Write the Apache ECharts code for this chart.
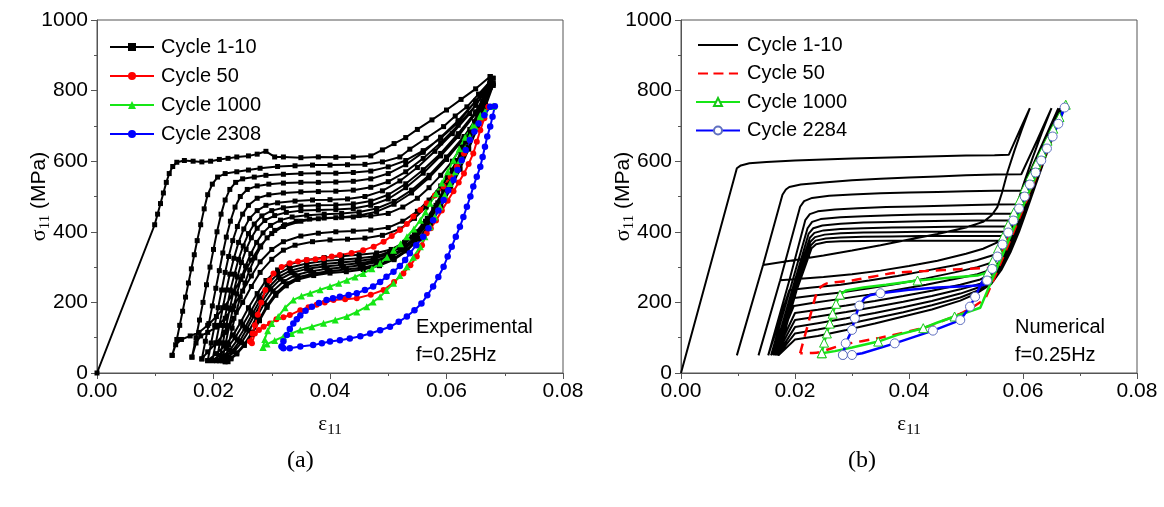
<!DOCTYPE html>
<html>
<head>
<meta charset="utf-8">
<script src="https://cdn.jsdelivr.net/npm/echarts@6/dist/echarts.min.js"></script>
<style>
  html, body { margin: 0; padding: 0; background: #fff; }
  #chart { width: 1164px; height: 507px; }
</style>
</head>
<body>
<div id="chart"></div>
<script>
// ---- (a) Experimental: cycles 1-10, [strain, stress MPa] ----
var expC1Load = [[0,0],[0.0099,420],[0.0104,450],[0.0109,480],[0.0114,510],[0.0119,540],[0.0124,565],[0.013,585],[0.0137,597],[0.015,602],[0.0165,600],[0.018,598],[0.0195,600],[0.021,605],[0.0225,608],[0.024,612],[0.026,615],[0.0275,620],[0.029,628],[0.0305,612],[0.032,612],[0.035,610],[0.038,612],[0.041,611],[0.044,612],[0.047,615],[0.049,632],[0.051,650],[0.053,667],[0.055,690],[0.0575,717],[0.06,745],[0.0625,775],[0.065,805],[0.0675,840]];
var expC1Unload = [[0.0675,840],[0.0665,790],[0.0655,740],[0.064,690],[0.0625,640],[0.061,600],[0.059,560],[0.057,525],[0.055,495],[0.0525,470],[0.050,452],[0.047,445],[0.044,442],[0.041,440],[0.038,437],[0.035,430],[0.032,415],[0.030,395],[0.028,360],[0.0265,320],[0.025,275],[0.0235,230],[0.022,190],[0.0205,160],[0.019,135],[0.0175,115],[0.016,105],[0.0145,95],[0.0135,80],[0.0129,50]];
var expC2Load = [[0.0129,50],[0.0137,95],[0.0142,135],[0.0147,175],[0.0152,215],[0.0157,255],[0.0162,295],[0.0167,335],[0.0172,375],[0.0178,420],[0.0184,465],[0.019,505],[0.0198,535],[0.0207,555],[0.022,565],[0.024,570],[0.026,575],[0.028,580],[0.031,585],[0.034,587],[0.037,589],[0.040,589],[0.043,590],[0.046,591],[0.049,598],[0.052,612],[0.0537,634],[0.0565,665],[0.0595,698],[0.0615,728],[0.0635,754],[0.0655,790],[0.068,835]];
var expC2Unload = [[0.068,835],[0.0668,780],[0.0655,725],[0.064,670],[0.0625,620],[0.061,575],[0.059,530],[0.057,490],[0.055,458],[0.0525,430],[0.050,412],[0.047,405],[0.044,402],[0.041,400],[0.038,396],[0.035,388],[0.032,372],[0.030,350],[0.028,315],[0.0265,275],[0.025,232],[0.0235,190],[0.022,155],[0.0205,130],[0.019,115],[0.0178,105],[0.017,85],[0.0163,45]];
var expC3Load = [[0.0163,45],[0.017,100],[0.0176,150],[0.0182,200],[0.0188,250],[0.0194,300],[0.02,350],[0.0206,400],[0.0213,450],[0.022,490],[0.0228,520],[0.0238,540],[0.025,550],[0.027,555],[0.029,560],[0.032,563],[0.035,565],[0.038,566],[0.041,566],[0.044,568],[0.047,572],[0.05,584],[0.053,602],[0.056,630],[0.059,665],[0.062,710],[0.065,770],[0.0675,825]];
var expC3Unload = [[0.0675,825],[0.0662,770],[0.0648,712],[0.0633,655],[0.0618,602],[0.0602,555],[0.0585,510],[0.0565,470],[0.0545,438],[0.052,408],[0.049,390],[0.046,382],[0.043,379],[0.040,377],[0.037,372],[0.034,362],[0.032,348],[0.030,322],[0.028,285],[0.0265,245],[0.025,200],[0.0235,155],[0.022,115],[0.0205,85],[0.019,60],[0.018,40]];
var expC4Load = [[0.018,40],[0.0186,90],[0.0192,140],[0.0198,190],[0.0204,240],[0.021,290],[0.0216,340],[0.0222,385],[0.0229,430],[0.0237,470],[0.0246,500],[0.0258,520],[0.0275,530],[0.0295,535],[0.032,538],[0.035,540],[0.038,540],[0.041,541],[0.044,543],[0.047,550],[0.05,565],[0.053,590],[0.056,625],[0.059,668],[0.062,715],[0.065,770],[0.0675,820]];
var expC4Unload = [[0.0675,820],[0.0662,762],[0.0648,700],[0.0633,640],[0.0618,585],[0.0602,532],[0.0585,482],[0.0567,438],[0.0548,400],[0.0528,370],[0.0505,350],[0.048,340],[0.045,335],[0.042,331],[0.039,327],[0.036,320],[0.033,308],[0.031,292],[0.029,262],[0.0275,225],[0.026,185],[0.0247,145],[0.0234,108],[0.022,78],[0.0205,55],[0.019,35]];
var expC5Load = [[0.019,35],[0.0196,85],[0.0202,135],[0.0208,185],[0.0214,235],[0.022,285],[0.0226,330],[0.0233,375],[0.0241,415],[0.025,450],[0.026,475],[0.0275,495],[0.0295,505],[0.032,510],[0.035,513],[0.038,514],[0.041,515],[0.044,518],[0.047,526],[0.05,542],[0.053,570],[0.056,608],[0.059,652],[0.062,702],[0.065,758],[0.0672,810]];
var expC5Unload = [[0.0672,810],[0.0659,752],[0.0645,692],[0.063,632],[0.0615,577],[0.0599,525],[0.0582,475],[0.0564,430],[0.0545,392],[0.0525,362],[0.0502,342],[0.0478,331],[0.045,325],[0.042,321],[0.039,317],[0.036,310],[0.033,298],[0.031,280],[0.0292,250],[0.0278,215],[0.0264,175],[0.025,135],[0.0237,100],[0.0223,70],[0.021,50],[0.0198,35]];
var expC6Load = [[0.0198,35],[0.0204,85],[0.021,135],[0.0216,185],[0.0222,235],[0.0228,280],[0.0235,325],[0.0243,370],[0.0252,408],[0.0262,438],[0.0275,460],[0.029,475],[0.031,482],[0.034,487],[0.037,490],[0.040,491],[0.043,493],[0.046,500],[0.049,516],[0.052,544],[0.055,582],[0.058,628],[0.061,678],[0.064,735],[0.0668,800]];
var expC6Unload = [[0.0668,800],[0.0655,742],[0.0641,683],[0.0626,625],[0.0611,570],[0.0595,518],[0.0578,468],[0.056,423],[0.0541,385],[0.052,355],[0.0498,335],[0.0474,323],[0.0447,317],[0.0418,313],[0.039,309],[0.036,302],[0.0332,290],[0.0312,272],[0.0295,243],[0.028,207],[0.0267,168],[0.0254,128],[0.0241,94],[0.0228,65],[0.0216,47],[0.0205,35]];
var expC7Load = [[0.0205,35],[0.0211,85],[0.0217,135],[0.0223,185],[0.0229,235],[0.0236,280],[0.0243,322],[0.0251,360],[0.026,395],[0.027,422],[0.0283,445],[0.03,460],[0.032,468],[0.035,473],[0.038,475],[0.041,476],[0.044,479],[0.047,487],[0.05,505],[0.053,536],[0.056,576],[0.059,622],[0.062,678],[0.065,740],[0.0672,805]];
var expC7Unload = [[0.0672,805],[0.0659,746],[0.0645,686],[0.063,627],[0.0615,571],[0.0599,518],[0.0582,468],[0.0564,422],[0.0545,383],[0.0524,352],[0.0502,331],[0.0478,318],[0.045,311],[0.042,306],[0.039,302],[0.036,295],[0.0335,284],[0.0315,266],[0.0298,238],[0.0283,202],[0.027,163],[0.0257,124],[0.0245,90],[0.0232,62],[0.022,45],[0.021,35]];
var expC8Load = [[0.021,35],[0.0216,85],[0.0222,135],[0.0228,183],[0.0234,228],[0.0241,272],[0.0248,313],[0.0256,350],[0.0265,383],[0.0275,410],[0.0288,432],[0.0305,446],[0.0325,455],[0.035,460],[0.038,462],[0.041,463],[0.044,466],[0.047,475],[0.05,493],[0.053,525],[0.056,566],[0.059,615],[0.062,670],[0.065,735],[0.0675,810]];
var expC8Unload = [[0.0675,810],[0.0662,750],[0.0648,690],[0.0633,630],[0.0618,573],[0.0602,520],[0.0585,469],[0.0567,422],[0.0548,382],[0.0527,350],[0.0505,328],[0.048,314],[0.0452,305],[0.0423,299],[0.0395,295],[0.0367,288],[0.034,277],[0.032,259],[0.0302,232],[0.0287,197],[0.0274,158],[0.0261,120],[0.0248,86],[0.0235,60],[0.0225,44],[0.0215,35]];
var expC9Load = [[0.0215,35],[0.0221,85],[0.0227,133],[0.0233,180],[0.024,224],[0.0247,265],[0.0255,303],[0.0264,338],[0.0274,370],[0.0285,397],[0.0298,418],[0.0315,433],[0.0335,442],[0.036,447],[0.039,450],[0.042,452],[0.045,456],[0.048,466],[0.051,486],[0.054,518],[0.057,560],[0.06,612],[0.063,670],[0.066,742],[0.068,815]];
var expC9Unload = [[0.068,815],[0.0667,755],[0.0653,694],[0.0638,634],[0.0623,577],[0.0607,522],[0.059,470],[0.0572,423],[0.0553,382],[0.0532,349],[0.051,325],[0.0485,309],[0.0457,299],[0.0428,293],[0.04,289],[0.0372,282],[0.0345,271],[0.0325,253],[0.0307,226],[0.0292,192],[0.0279,153],[0.0266,115],[0.0253,82],[0.024,57],[0.023,42],[0.022,32]];
var expC10Load = [[0.022,32],[0.0226,80],[0.0232,127],[0.0239,172],[0.0246,215],[0.0254,255],[0.0262,292],[0.0271,326],[0.0281,357],[0.0292,383],[0.0305,404],[0.0322,420],[0.0342,430],[0.0365,436],[0.039,439],[0.042,441],[0.045,446],[0.048,457],[0.051,478],[0.054,510],[0.057,553],[0.06,605],[0.063,665],[0.066,738],[0.068,820]];
var expC10Unload = [[0.068,820],[0.0667,760],[0.0653,698],[0.0638,637],[0.0623,579],[0.0607,523],[0.059,470],[0.0572,422],[0.0553,380],[0.0532,346],[0.051,321],[0.0485,304],[0.0457,293],[0.0428,287],[0.04,283],[0.0372,276],[0.0345,265],[0.0325,247],[0.0307,220],[0.0292,186],[0.0279,148],[0.0266,110],[0.0253,78],[0.024,54],[0.023,40],[0.0225,32]];

var expC50Load = [[0.0263,89],[0.0267,112],[0.0271,135],[0.0276,165],[0.0282,200],[0.0289,235],[0.0296,262],[0.0303,282],[0.0317,300],[0.0331,311],[0.0345,316],[0.036,320],[0.0375,322],[0.0389,325],[0.0403,330],[0.0417,334],[0.0437,340],[0.0457,348],[0.0475,358],[0.0492,372],[0.0506,388],[0.052,405],[0.0532,422],[0.0543,443],[0.0555,462],[0.0566,481],[0.058,503],[0.0595,528],[0.0607,556],[0.0618,584],[0.063,622],[0.064,660],[0.0649,690],[0.0658,717],[0.0672,754]];
var expC50Unload = [[0.0672,754],[0.0665,722],[0.0658,688],[0.0652,655],[0.0646,622],[0.0638,592],[0.063,565],[0.0621,540],[0.0612,515],[0.0602,488],[0.0592,460],[0.0582,432],[0.0573,410],[0.0566,396],[0.0558,362],[0.0549,330],[0.0538,305],[0.0526,282],[0.051,258],[0.0492,235],[0.047,222],[0.0446,212],[0.0426,209],[0.0406,207],[0.0391,200],[0.0377,193],[0.0363,186],[0.0349,178],[0.0331,164],[0.032,158],[0.0308,152],[0.0297,140],[0.0286,131],[0.0278,122],[0.0271,112],[0.0266,84],[0.0263,89]];
var expC1000Load = [[0.0285,72],[0.0288,95],[0.0293,120],[0.03,140],[0.0311,160],[0.0323,185],[0.0337,207],[0.0351,218],[0.0366,226],[0.0383,236],[0.04,245],[0.0415,254],[0.0429,263],[0.0443,272],[0.0457,282],[0.0472,295],[0.0486,311],[0.0498,328],[0.0509,348],[0.0521,366],[0.0532,386],[0.0544,408],[0.0555,433],[0.0564,456],[0.0572,481],[0.0582,508],[0.0592,538],[0.0602,570],[0.0612,603],[0.0622,635],[0.0632,668],[0.0645,700],[0.0658,730],[0.068,756]];
var expC1000Unload = [[0.068,756],[0.0666,740],[0.0658,726],[0.0649,698],[0.064,669],[0.0632,636],[0.0623,603],[0.0615,570],[0.0606,537],[0.0597,504],[0.0589,471],[0.058,442],[0.0572,414],[0.0563,386],[0.0555,358],[0.0543,328],[0.0532,301],[0.052,276],[0.0509,254],[0.0497,234],[0.0486,216],[0.0474,201],[0.0463,188],[0.0446,173],[0.0429,160],[0.0409,150],[0.0389,141],[0.0369,131],[0.0349,122],[0.0334,112],[0.032,103],[0.0305,92],[0.0292,82],[0.0285,72]];
var expC2308Load = [[0.0317,75],[0.032,90],[0.0326,108],[0.0331,125],[0.0337,140],[0.0343,152],[0.0349,163],[0.0358,176],[0.0369,188],[0.0381,198],[0.0394,207],[0.0405,212],[0.0417,216],[0.0432,221],[0.0446,226],[0.046,235],[0.0474,245],[0.0486,258],[0.0497,273],[0.0509,287],[0.052,303],[0.0529,320],[0.0537,339],[0.0548,362],[0.056,386],[0.0569,410],[0.0577,433],[0.0586,460],[0.0595,490],[0.0603,518],[0.0612,547],[0.0619,575],[0.0626,603],[0.0633,632],[0.064,660],[0.0648,684],[0.0655,707],[0.0665,730],[0.0675,754]];
var expC2308Unload = [[0.0683,756],[0.0679,726],[0.0675,698],[0.067,670],[0.0666,641],[0.0662,612],[0.0658,584],[0.0652,556],[0.0646,528],[0.0641,500],[0.0635,471],[0.0629,442],[0.0623,414],[0.0616,386],[0.0609,358],[0.0602,330],[0.0595,301],[0.0586,272],[0.0577,245],[0.0567,220],[0.0557,197],[0.0545,178],[0.0532,160],[0.0518,145],[0.0503,131],[0.0486,121],[0.0469,112],[0.0452,104],[0.0434,98],[0.0417,93],[0.04,89],[0.0386,84],[0.0371,79],[0.0349,75],[0.0331,70],[0.032,70],[0.0317,75]];

// ---- (b) Numerical: cycles 1-10 ----
var numC1Load = [[0,0],[0.0098,580],[0.0105,588],[0.012,594],[0.015,598],[0.02,602],[0.025,605],[0.03,608],[0.035,610],[0.04,612],[0.045,614],[0.05,616],[0.055,617],[0.0575,618],[0.0595,690],[0.0612,750]];
var numC1Unload = [[0.0612,750],[0.0598,690],[0.0585,630],[0.0573,570],[0.0563,510],[0.0555,470],[0.0545,447],[0.053,428],[0.05,412],[0.045,394],[0.04,378],[0.035,362],[0.03,347],[0.025,333],[0.02,320],[0.0144,306],[0.0098,50]];
var numC2Load = [[0.0098,50],[0.0144,306],[0.0178,505],[0.0184,520],[0.019,527],[0.021,534],[0.025,540],[0.03,546],[0.035,550],[0.04,554],[0.045,557],[0.05,560],[0.055,562],[0.0597,563],[0.0625,660],[0.065,750]];
var numC2Unload = [[0.065,750],[0.0633,680],[0.0617,610],[0.0602,540],[0.059,480],[0.058,430],[0.057,395],[0.0555,370],[0.053,352],[0.05,338],[0.045,318],[0.04,303],[0.035,290],[0.03,280],[0.025,272],[0.0174,263],[0.0136,50]];
var numC3Load = [[0.0136,50],[0.0174,263],[0.0209,471],[0.0216,487],[0.023,496],[0.026,502],[0.03,506],[0.035,509],[0.04,511],[0.045,513],[0.05,515],[0.055,516],[0.0598,517],[0.063,635],[0.0662,750]];
var numC3Unload = [[0.0662,750],[0.0645,680],[0.0628,610],[0.0612,540],[0.0598,475],[0.0585,420],[0.0573,380],[0.0562,352],[0.055,335],[0.052,320],[0.048,305],[0.043,290],[0.038,275],[0.033,262],[0.028,250],[0.023,242],[0.019,235],[0.0153,50]];
var numC4Load = [[0.0153,50],[0.019,262],[0.0218,433],[0.0226,450],[0.024,458],[0.027,463],[0.031,467],[0.036,470],[0.041,472],[0.046,474],[0.051,476],[0.055,477],[0.0595,478],[0.0625,580],[0.0665,750]];
var numC4Unload = [[0.0665,750],[0.0648,680],[0.0632,610],[0.0616,540],[0.0601,475],[0.0587,415],[0.0575,370],[0.0563,335],[0.055,315],[0.052,300],[0.048,285],[0.043,268],[0.038,253],[0.033,240],[0.028,228],[0.023,219],[0.0195,212],[0.0158,50]];
var numC5Load = [[0.0158,50],[0.0195,258],[0.0222,410],[0.023,428],[0.0245,436],[0.028,441],[0.032,444],[0.037,447],[0.042,449],[0.047,450],[0.052,451],[0.059,452],[0.0625,560],[0.0667,750]];
var numC5Unload = [[0.0667,750],[0.065,680],[0.0633,605],[0.0617,535],[0.0602,470],[0.0588,410],[0.0575,360],[0.0562,322],[0.0548,295],[0.052,280],[0.048,266],[0.043,250],[0.038,236],[0.033,222],[0.028,210],[0.023,198],[0.0198,190],[0.0162,50]];
var numC6Load = [[0.0162,50],[0.0198,252],[0.0224,395],[0.0232,410],[0.0248,418],[0.028,423],[0.032,426],[0.037,428],[0.042,430],[0.047,431],[0.052,432],[0.0585,432],[0.0622,545],[0.0668,750]];
var numC6Unload = [[0.0668,750],[0.0651,680],[0.0634,605],[0.0618,535],[0.0603,468],[0.0589,408],[0.0576,355],[0.0562,312],[0.0548,283],[0.0525,265],[0.049,250],[0.044,233],[0.039,218],[0.034,204],[0.029,191],[0.024,179],[0.020,170],[0.0165,50]];
var numC7Load = [[0.0165,50],[0.020,250],[0.0226,383],[0.0234,397],[0.025,404],[0.028,408],[0.032,410],[0.037,412],[0.042,413],[0.047,414],[0.052,415],[0.058,415],[0.062,530],[0.0669,750]];
var numC7Unload = [[0.0669,750],[0.0652,680],[0.0635,605],[0.0619,533],[0.0604,466],[0.059,405],[0.0576,350],[0.0562,305],[0.0547,273],[0.0525,253],[0.049,237],[0.044,218],[0.039,202],[0.034,187],[0.029,173],[0.024,160],[0.020,150],[0.0167,50]];
var numC8Load = [[0.0167,50],[0.0201,245],[0.0227,372],[0.0235,385],[0.0252,392],[0.028,396],[0.032,398],[0.037,399],[0.042,400],[0.047,400],[0.052,400],[0.0575,400],[0.0618,520],[0.067,750]];
var numC8Unload = [[0.067,750],[0.0653,680],[0.0636,605],[0.062,532],[0.0605,465],[0.0591,403],[0.0577,347],[0.0562,300],[0.0546,265],[0.0523,243],[0.049,225],[0.044,204],[0.039,186],[0.034,170],[0.029,155],[0.024,141],[0.020,130],[0.0169,50]];
var numC9Load = [[0.0169,50],[0.0202,240],[0.0228,362],[0.0236,375],[0.0254,381],[0.028,384],[0.032,386],[0.037,387],[0.042,388],[0.047,388],[0.052,388],[0.057,388],[0.0615,510],[0.0671,750]];
var numC9Unload = [[0.0671,750],[0.0654,680],[0.0637,605],[0.0621,532],[0.0606,464],[0.0592,402],[0.0578,345],[0.0562,296],[0.0545,258],[0.052,233],[0.049,214],[0.044,192],[0.039,172],[0.034,155],[0.029,138],[0.024,123],[0.020,112],[0.017,50]];
var numC10Load = [[0.017,50],[0.0203,235],[0.0229,353],[0.0237,365],[0.0255,371],[0.028,373],[0.032,374],[0.037,375],[0.042,375],[0.047,375],[0.052,375],[0.0565,375],[0.0612,500],[0.0672,750]];
var numC10Unload = [[0.0672,750],[0.0655,680],[0.0638,605],[0.0622,532],[0.0607,463],[0.0593,400],[0.0578,342],[0.0562,292],[0.0544,252],[0.0518,225],[0.049,205],[0.044,180],[0.039,160],[0.034,140],[0.029,122],[0.024,105],[0.020,95],[0.0171,50]];

var numC50 = [[0.0209,56],[0.0224,145],[0.024,235],[0.0256,254],[0.03,262],[0.0372,283],[0.043,289],[0.049,294],[0.0525,297],[0.0545,300],[0.0672,750],[0.0535,215],[0.0515,190],[0.049,168],[0.043,130],[0.035,100],[0.0284,80],[0.024,58],[0.0209,56]];
// third entry of each row: 1 = marker drawn at that point
var numC1000 = [[0.0247,56,1],[0.0251,86,1],[0.0256,112,1],[0.0261,140,1],[0.0266,168,1],[0.0272,196,1],[0.0279,222,1],[0.029,234,0],[0.032,242,0],[0.036,250,0],[0.0415,262,1],[0.047,270,0],[0.052,276,0],[0.0538,285,1],[0.0547,318,1],[0.0556,352,1],[0.0565,386,1],[0.0574,420,1],[0.0584,455,1],[0.0594,490,1],[0.0603,524,1],[0.0613,558,1],[0.0623,592,1],[0.0633,625,1],[0.0643,658,1],[0.0653,692,1],[0.0664,725,1],[0.0675,760,1],[0.0525,185,0],[0.048,160,1],[0.045,143,0],[0.0425,127,1],[0.038,108,0],[0.0346,89,1],[0.030,72,0],[0.027,62,0],[0.0247,56,1]];
var numC2284 = [[0.0284,51,1],[0.0289,84,1],[0.03,122,1],[0.0305,155,1],[0.0313,191,1],[0.0322,212,0],[0.0333,221,0],[0.035,226,1],[0.04,236,0],[0.045,242,0],[0.05,246,0],[0.0532,249,0],[0.0537,262,1],[0.0546,295,1],[0.0555,330,1],[0.0564,364,1],[0.0574,398,1],[0.0583,432,1],[0.0593,466,1],[0.0603,500,1],[0.0612,534,1],[0.0622,568,1],[0.0632,602,1],[0.0642,636,1],[0.0652,670,1],[0.0662,706,1],[0.0673,752,1],[0.0516,216,1],[0.0507,188,1],[0.049,150,1],[0.0442,120,1],[0.0375,84,1],[0.0318,56,0],[0.030,51,1],[0.0284,51,1]];

var legendA = ['Cycle 1-10', 'Cycle 50', 'Cycle 1000', 'Cycle 2308'];
var legendB = ['Cycle 1-10 ', 'Cycle 50 ', 'Cycle 1000 ', 'Cycle 2284 '];

var expBlack = [].concat(expC1Load, expC1Unload, expC2Load, expC2Unload, expC3Load, expC3Unload,
    expC4Load, expC4Unload, expC5Load, expC5Unload, expC6Load, expC6Unload, expC7Load, expC7Unload,
    expC8Load, expC8Unload, expC9Load, expC9Unload, expC10Load, expC10Unload);
var numBlack = [].concat(numC1Load, numC1Unload, numC2Load, numC2Unload, numC3Load, numC3Unload,
    numC4Load, numC4Unload, numC5Load, numC5Unload, numC6Load, numC6Unload, numC7Load, numC7Unload,
    numC8Load, numC8Unload, numC9Load, numC9Unload, numC10Load, numC10Unload);

function marked(rows) {
    return rows.map(function (r) {
        return r[2] ? [r[0], r[1]] : { value: [r[0], r[1]], symbol: 'none' };
    });
}

var sans = 'Liberation Sans, Arial, sans-serif';
var serif = 'Liberation Serif, Times New Roman, serif';

// legend icons for plain lines (tiny corner anchors keep the bar thin)
var anchors = 'M0,0L0.01,0L0,0.01Z M44,11L43.99,11L44,10.99Z ';
var iconSolid = 'path://' + anchors + 'M0,4.5L44,4.5L44,6.5L0,6.5Z';
var iconDash = 'path://' + anchors + 'M0,4.3L11,4.3L11,6.7L0,6.7Z M17,4.3L28,4.3L28,6.7L17,6.7Z M34,4.3L44,4.3L44,6.7L34,6.7Z';

function xAx(idx) {
    return {
        type: 'value', gridIndex: idx, min: 0, max: 0.08, interval: 0.02,
        name: '{e|ε}{s|11}', nameLocation: 'middle', nameGap: 38,
        nameTextStyle: { rich: {
            e: { fontFamily: serif, fontSize: 21, color: '#000' },
            s: { fontFamily: serif, fontSize: 15, color: '#000', padding: [12, 0, 0, 0] }
        } },
        axisLine: { show: true, lineStyle: { color: '#555', width: 1 } },
        axisTick: { show: true, inside: false, length: 6, lineStyle: { color: '#555' } },
        minorTick: { show: true, splitNumber: 2, length: 3, lineStyle: { color: '#555' } },
        splitLine: { show: false },
        axisLabel: { fontFamily: sans, fontSize: 21, color: '#000', margin: 8,
            formatter: function (v) { return v.toFixed(2); } }
    };
}
function yAx(idx) {
    return {
        type: 'value', gridIndex: idx, min: 0, max: 1000, interval: 200,
        name: '{e|σ}{s|11}{t| (MPa)}', nameLocation: 'middle', nameGap: 44, nameRotate: 90,
        nameMoveOverlap: false,
        nameTextStyle: { rich: {
            e: { fontFamily: serif, fontSize: 22, color: '#000' },
            s: { fontFamily: serif, fontSize: 15, color: '#000', padding: [12, 0, 0, 0] },
            t: { fontFamily: sans, fontSize: 21, color: '#000' }
        } },
        axisLine: { show: true, lineStyle: { color: '#555', width: 1 } },
        axisTick: { show: true, inside: false, length: 6, lineStyle: { color: '#555' } },
        minorTick: { show: true, splitNumber: 2, length: 3, lineStyle: { color: '#555' } },
        splitLine: { show: false },
        axisLabel: { fontFamily: sans, fontSize: 21, color: '#000', margin: 9,
            formatter: function (v) { return String(v); } }
    };
}

function legendBox(left, top, gap, names) {
    return {
        orient: 'vertical', left: left, top: top, data: names,
        itemWidth: 44, itemHeight: 10, itemGap: gap, selectedMode: false,
        formatter: function (n) { return n.trim(); },
        textStyle: { fontFamily: sans, fontSize: 20, color: '#000', padding: [0, 0, 0, 2] }
    };
}

function note(x, y, text) {
    return { type: 'text', left: x, top: y,
        style: { text: text, fontFamily: sans, fontSize: 20, fill: '#000' } };
}

var legB = legendBox(690, 30, 8.5, [
    { name: legendB[0], icon: iconSolid },
    { name: legendB[1], icon: iconDash },
    legendB[2], legendB[3]
]);

var chart = echarts.init(document.getElementById('chart'), null, { renderer: 'canvas' });
chart.setOption({
    animation: false,
    backgroundColor: '#fff',
    grid: [
        { left: 97, top: 20, width: 466, height: 353, show: true, borderColor: '#555', borderWidth: 1 },
        { left: 681, top: 20, width: 456, height: 353, show: true, borderColor: '#555', borderWidth: 1 }
    ],
    xAxis: [xAx(0), xAx(1)],
    yAxis: [yAx(0), yAx(1)],
    legend: [legendBox(104, 32, 9, legendA), legB],
    graphic: [
        note(416, 317, 'Experimental'),
        note(416, 345, 'f=0.25Hz'),
        note(1015, 317, 'Numerical'),
        note(1015, 345, 'f=0.25Hz'),
        { type: 'text', left: 287, top: 449, style: { text: '(a)', fontFamily: serif, fontSize: 24, fill: '#000' } },
        { type: 'text', left: 848, top: 449, style: { text: '(b)', fontFamily: serif, fontSize: 24, fill: '#000' } }
    ],
    series: [
        { name: legendA[0], type: 'line', xAxisIndex: 0, yAxisIndex: 0, data: expBlack,
          symbol: 'rect', symbolSize: 5, color: '#000', lineStyle: { width: 2 } },
        { name: legendA[1], type: 'line', xAxisIndex: 0, yAxisIndex: 0, data: [].concat(expC50Load, expC50Unload),
          symbol: 'circle', symbolSize: 6, color: '#ff0000', lineStyle: { width: 2 } },
        { name: legendA[2], type: 'line', xAxisIndex: 0, yAxisIndex: 0, data: [].concat(expC1000Load, expC1000Unload),
          symbol: 'triangle', symbolSize: 7, color: '#16e616', lineStyle: { width: 2 } },
        { name: legendA[3], type: 'line', xAxisIndex: 0, yAxisIndex: 0, data: [].concat(expC2308Load, expC2308Unload),
          symbol: 'circle', symbolSize: 6.5, color: '#0000ff', lineStyle: { width: 2 } },

        { name: legendB[0], type: 'line', xAxisIndex: 1, yAxisIndex: 1, data: numBlack,
          symbol: 'none', color: '#000', lineStyle: { width: 2 }, itemStyle: { color: '#000' } },
        { name: legendB[1], type: 'line', xAxisIndex: 1, yAxisIndex: 1, data: numC50, smooth: 0.2,
          symbol: 'none', color: '#ff0000', lineStyle: { width: 2.5, type: [10, 7] }, itemStyle: { color: '#ff0000' } },
        { name: legendB[2], type: 'line', xAxisIndex: 1, yAxisIndex: 1, data: marked(numC1000),
          symbol: 'triangle', symbolSize: 9, lineStyle: { width: 2.5, color: '#16e616' },
          itemStyle: { color: '#fff', borderColor: '#16c816', borderWidth: 1 } },
        { name: legendB[3], type: 'line', xAxisIndex: 1, yAxisIndex: 1, data: marked(numC2284),
          symbol: 'circle', symbolSize: 9, lineStyle: { width: 2.5, color: '#0000ff' },
          itemStyle: { color: '#fff', borderColor: '#6070c0', borderWidth: 1 } }
    ]
});
</script>
</body>
</html>
